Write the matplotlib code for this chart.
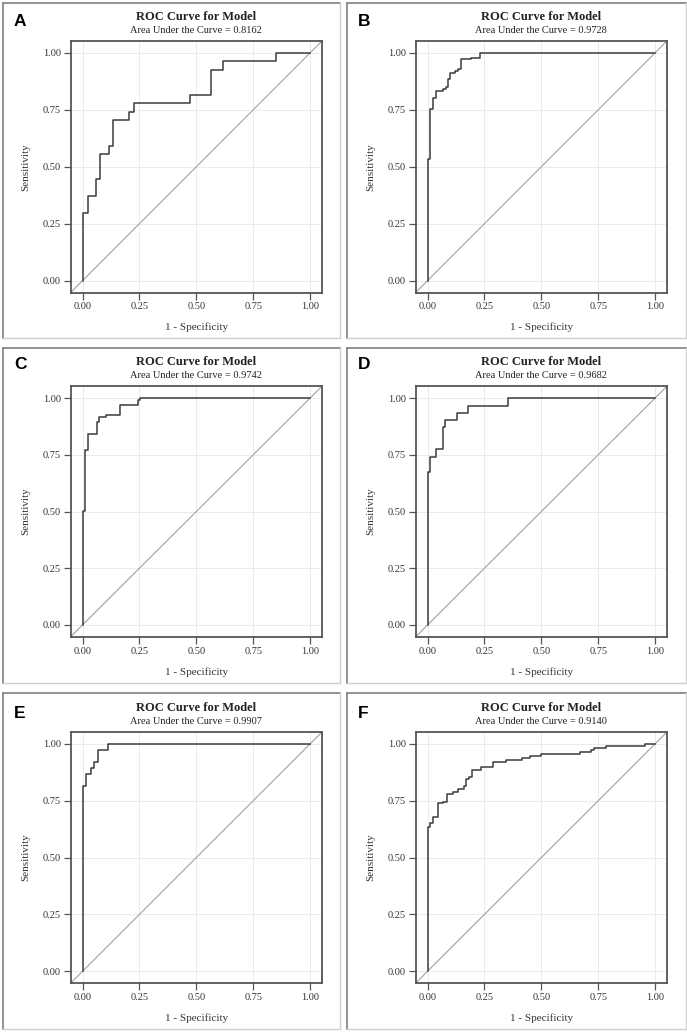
# ROC curves, six models (panels A-F)

import numpy as np
import matplotlib.pyplot as plt
from matplotlib.lines import Line2D

# -----------------------------------------
# Data
# -----------------------------------------
panel_labels = ["A", "B", "C", "D", "E", "F"]
auc_values = [0.8162, 0.9728, 0.9742, 0.9682, 0.9907, 0.9140]

fpr_a = [0, 0, 0.022, 0.059, 0.076, 0.116, 0.132, 0.206, 0.227, 0.470, 0.564, 0.619, 0.849, 1.0]
tpr_a = [0, 0.296, 0.370, 0.444, 0.556, 0.593, 0.704, 0.741, 0.778, 0.815, 0.926, 0.963, 1.0, 1.0]

fpr_b = [0, 0, 0.011, 0.026, 0.038, 0.070, 0.082, 0.088, 0.100, 0.119, 0.132, 0.148, 0.191, 0.229, 1.0]
tpr_b = [0, 0.534, 0.755, 0.803, 0.831, 0.840, 0.850, 0.883, 0.912, 0.920, 0.928, 0.971, 0.975, 1.0, 1.0]

fpr_c = [0, 0, 0.012, 0.026, 0.063, 0.073, 0.104, 0.163, 0.242, 0.253, 1.0]
tpr_c = [0, 0.504, 0.771, 0.841, 0.896, 0.915, 0.925, 0.969, 0.990, 1.0, 1.0]

fpr_d = [0, 0, 0.013, 0.037, 0.066, 0.076, 0.128, 0.176, 0.352, 1.0]
tpr_d = [0, 0.675, 0.742, 0.775, 0.871, 0.903, 0.935, 0.966, 1.0, 1.0]

fpr_e = [0, 0, 0.015, 0.037, 0.051, 0.066, 0.114, 1.0]
tpr_e = [0, 0.815, 0.868, 0.894, 0.922, 0.974, 1.0, 1.0]

fpr_f = [0, 0, 0.004, 0.013, 0.022, 0.044, 0.066, 0.084, 0.113, 0.135, 0.160, 0.169,
         0.183, 0.194, 0.233, 0.289, 0.345, 0.413, 0.450, 0.497, 0.670, 0.716, 0.732,
         0.784, 0.956, 0.985, 1.0]
tpr_f = [0, 0.563, 0.632, 0.650, 0.676, 0.738, 0.746, 0.779, 0.790, 0.800, 0.816, 0.846,
         0.856, 0.885, 0.897, 0.919, 0.929, 0.938, 0.944, 0.953, 0.963, 0.974, 0.981,
         0.990, 0.997, 1.0, 1.0]

curves = [(fpr_a, tpr_a), (fpr_b, tpr_b), (fpr_c, tpr_c),
          (fpr_d, tpr_d), (fpr_e, tpr_e), (fpr_f, tpr_f)]

ticks = [0.0, 0.25, 0.5, 0.75, 1.0]
tick_labels = ["0.00", "0.25", "0.50", "0.75", "1.00"]

# -----------------------------------------
# Layout (pixels)
# -----------------------------------------
W, H = 687, 1033
fig = plt.figure(figsize=(W / 100, H / 100), dpi=100)
fig.patch.set_facecolor("white")

serif = "Liberation Serif"

# axes boxes: left, right, top, bottom
col_x = [(70.7, 322.0), (415.7, 667.0)]
row_y = [(40.7, 292.7), (386.0, 637.0), (731.7, 983.3)]
# panel frames: x0, x1, y0, y1
frame_x = [(3, 340), (347, 686)]
frame_y = [(3, 338), (348, 683), (693, 1029)]
letter_y = [14, 357, 706]


def fx(px):
    return px / W


def fy(py):
    return 1 - py / H


for i, (fpr, tpr) in enumerate(curves):
    r, c = divmod(i, 2)
    x0, x1 = col_x[c]
    y0, y1 = row_y[r]

    # panel frame: darker on left/top, lighter on right/bottom
    fx0, fx1 = frame_x[c]
    fy0, fy1 = frame_y[r]
    fig.add_artist(Line2D([fx(fx0), fx(fx0)], [fy(fy0), fy(fy1)], color="#808080", lw=1.2))
    fig.add_artist(Line2D([fx(fx0), fx(fx1)], [fy(fy0), fy(fy0)], color="#808080", lw=1.2))
    fig.add_artist(Line2D([fx(fx1), fx(fx1)], [fy(fy0), fy(fy1)], color="#cfcfcf", lw=1.0))
    fig.add_artist(Line2D([fx(fx0), fx(fx1)], [fy(fy1), fy(fy1)], color="#cfcfcf", lw=1.0))

    ax = fig.add_axes([fx(x0), fy(y1), (x1 - x0) / W, (y1 - y0) / H])
    ax.set_xlim(-0.052, 1.052)
    ax.set_ylim(-0.053, 1.053)

    ax.plot([-0.052, 1.052], [-0.052, 1.052], color="#a0a0a0", lw=0.8, zorder=2)
    ax.plot(fpr, tpr, drawstyle="steps-post", color="#3c3c3c", lw=1.1, zorder=3)

    ax.set_xticks(ticks)
    ax.set_yticks(ticks)
    ax.set_xticklabels(tick_labels, fontfamily=serif, fontsize=7.5, color="#333333")
    ax.set_yticklabels(tick_labels, fontfamily=serif, fontsize=7.5, color="#333333")
    ax.tick_params(direction="out", length=5, width=0.9, color="#555555", pad=2)
    ax.grid(True, color="#ebebeb", lw=0.7, zorder=0)
    ax.set_axisbelow(True)
    for s in ax.spines.values():
        s.set_color("#555555")
        s.set_linewidth(1.3)

    ax.set_xlabel("1 - Specificity", fontfamily=serif, fontsize=8, color="#333333", labelpad=8)
    ax.set_ylabel("Sensitivity", fontfamily=serif, fontsize=8, color="#333333", labelpad=9)

    xc = (x0 + x1) / 2
    fig.text(fx(xc), fy(y0 - 24), "ROC Curve for Model", fontfamily=serif,
             fontweight="bold", fontsize=9, ha="center", va="center", color="#222222")
    fig.text(fx(xc), fy(y0 - 10.5), "Area Under the Curve = %.4f" % auc_values[i],
             fontfamily=serif, fontsize=7.5, ha="center", va="center", color="#222222")

    fig.text(fx(fx0 + 11), fy(letter_y[r]), panel_labels[i], fontfamily="Liberation Sans",
             fontweight="bold", fontsize=12.5, ha="left", va="top", color="black")

fig.savefig("out.png", dpi=100, facecolor="white")
